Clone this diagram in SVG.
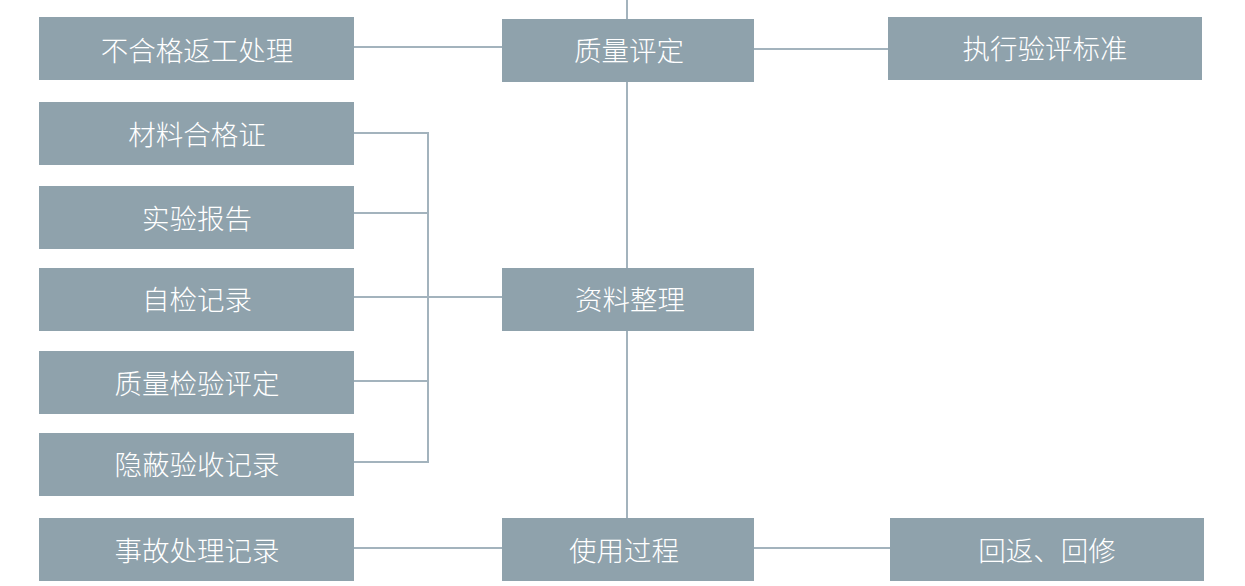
<svg xmlns="http://www.w3.org/2000/svg" width="1245" height="586" viewBox="0 0 1245 586">
<style>
.box{fill:#8fa2ac;}
.lbl{fill:#ffffff;font-family:"Noto Sans CJK SC","Noto Sans",sans-serif;font-size:27.5px;font-weight:300;text-anchor:middle;dominant-baseline:central;}
.ln{stroke:#a3b3bd;stroke-width:2;fill:none;}
</style>
<rect width="1245" height="586" fill="#ffffff"/>
<g id="connectors">
<path class="ln" d="M627 0V518"/>
<path class="ln" d="M354 47H502"/>
<path class="ln" d="M754 49H888"/>
<path class="ln" d="M354 133H428V462H354"/>
<path class="ln" d="M354 213H428"/>
<path class="ln" d="M354 297H502"/>
<path class="ln" d="M354 381H428"/>
<path class="ln" d="M354 548H502"/>
<path class="ln" d="M754 548H890"/>
</g>
<g id="n1"><rect class="box" x="39" y="17" width="315" height="63"/><text class="lbl" x="197" y="49">不合格返工处理</text></g>
<g id="n2"><rect class="box" x="39" y="102" width="315" height="63"/><text class="lbl" x="197" y="133">材料合格证</text></g>
<g id="n3"><rect class="box" x="39" y="186" width="315" height="63"/><text class="lbl" x="197" y="217">实验报告</text></g>
<g id="n4"><rect class="box" x="39" y="268" width="315" height="63"/><text class="lbl" x="197" y="298">自检记录</text></g>
<g id="n5"><rect class="box" x="39" y="351" width="315" height="63"/><text class="lbl" x="197" y="382">质量检验评定</text></g>
<g id="n6"><rect class="box" x="39" y="433" width="315" height="63"/><text class="lbl" x="197" y="463">隐蔽验收记录</text></g>
<g id="n7"><rect class="box" x="39" y="518" width="315" height="63"/><text class="lbl" x="197" y="549">事故处理记录</text></g>
<g id="c1"><rect class="box" x="502" y="19" width="252" height="63"/><text class="lbl" x="629" y="49">质量评定</text></g>
<g id="c2"><rect class="box" x="502" y="268" width="252" height="63"/><text class="lbl" x="630" y="298">资料整理</text></g>
<g id="c3"><rect class="box" x="502" y="518" width="252" height="63"/><text class="lbl" x="624" y="549">使用过程</text></g>
<g id="r1"><rect class="box" x="888" y="17" width="314" height="63"/><text class="lbl" x="1045" y="47">执行验评标准</text></g>
<g id="r2"><rect class="box" x="890" y="518" width="314" height="63"/><text class="lbl" x="1047" y="549">回返、回修</text></g>
</svg>
